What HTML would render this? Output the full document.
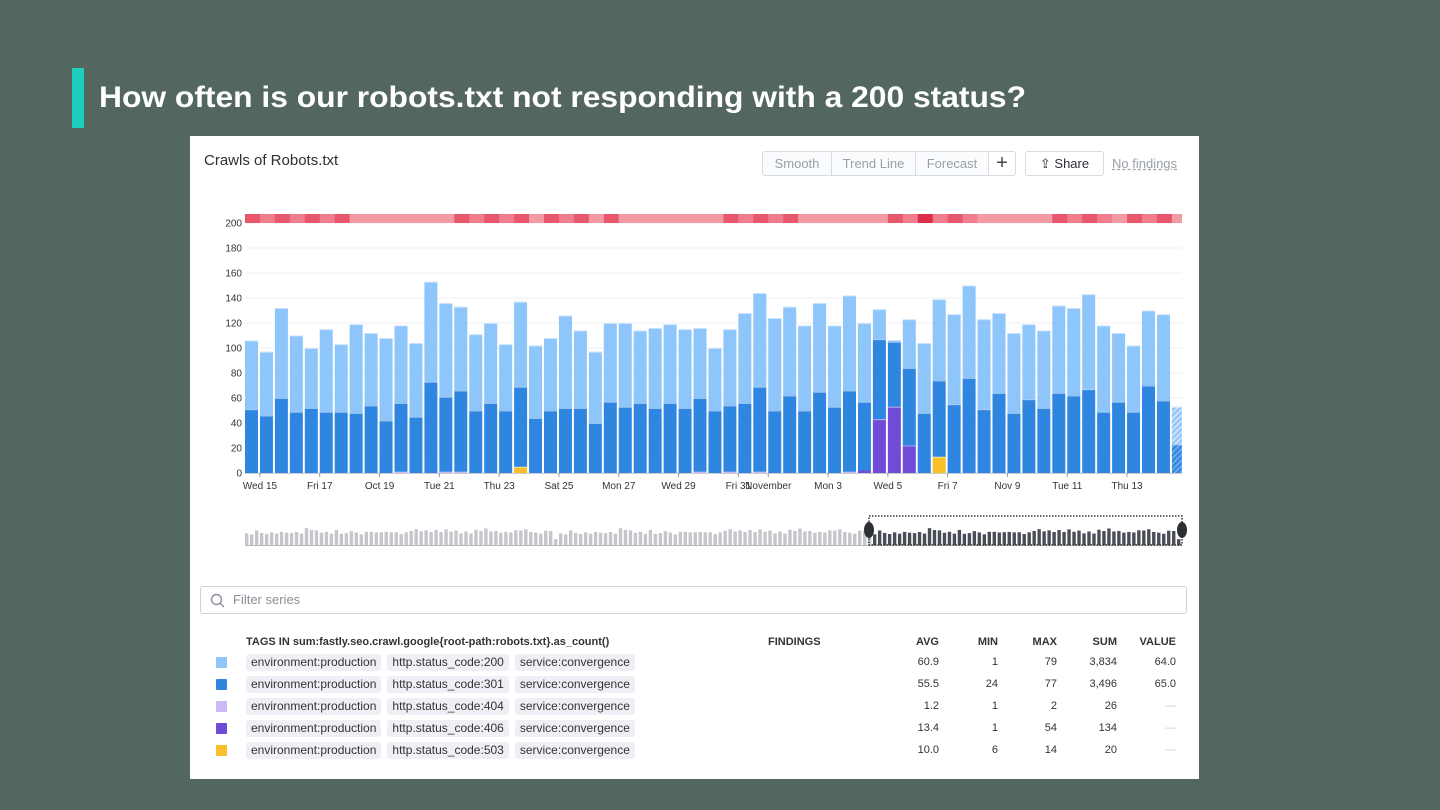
<!DOCTYPE html>
<html><head><meta charset="utf-8"><style>
body{margin:0;width:1440px;height:810px;background:#536760;font-family:"Liberation Sans",sans-serif;position:relative;overflow:hidden}
.abs{position:absolute}
.card{left:190px;top:136px;width:1009px;height:643px;background:#fff}
.btn{position:absolute;top:15px;height:25px;border:1px solid #d8dbe0;box-sizing:border-box;font-size:13px;color:#9aa0a8;line-height:23px;text-align:center;background:#fafbfc}
.chip{display:inline-block;background:#eef0f5;border-radius:3px;padding:0 5px;margin-right:6px;font-size:12px;color:#333;line-height:17px}
.row{position:absolute;left:0;height:20px;font-size:11px;color:#333}
.num{position:absolute;text-align:right;width:60px}
</style></head><body>
<div class="abs" style="left:72px;top:68px;width:12px;height:60px;background:#1ecfc0"></div>
<svg class="abs" style="left:0;top:0" width="1100" height="130"><text x="99" y="107" font-size="30" font-weight="bold" fill="#fff" textLength="927" lengthAdjust="spacingAndGlyphs" font-family="Liberation Sans, sans-serif">How often is our robots.txt not responding with a 200 status?</text></svg>
<div class="abs card">
  <div class="abs" style="left:14px;top:16px;font-size:15px;color:#2b2f36">Crawls of Robots.txt</div>
  <div class="btn" style="left:572px;width:70px;border-radius:3px 0 0 3px">Smooth</div>
  <div class="btn" style="left:641px;width:85px">Trend Line</div>
  <div class="btn" style="left:725px;width:74px">Forecast</div>
  <div class="btn" style="left:798px;width:28px;color:#444;font-size:20px;background:#fff;border-radius:0 3px 3px 0">+</div>
  <div class="btn" style="left:835px;width:79px;color:#2b2f36;background:#fff;border-radius:3px">⇪ Share</div>
  <div class="abs" style="left:922px;top:20px;font-size:13px;color:#9aa0a8;text-decoration:underline dashed">No findings</div>
  <div class="abs" style="left:10px;top:450px;width:987px;height:28px;border:1px solid #cfd3d8;border-radius:3px;box-sizing:border-box;font-size:13px;color:#8a9099;line-height:26px;padding-left:32px">Filter series
    <svg class="abs" style="left:9px;top:6px" width="16" height="16"><circle cx="6.5" cy="6.5" r="5" fill="none" stroke="#8a9099" stroke-width="1.4"/><line x1="10" y1="10" x2="14" y2="14" stroke="#8a9099" stroke-width="1.4"/></svg></div>
</div>
<svg id="chart" class="abs" style="left:0;top:0" width="1440" height="560"></svg>
<div id="legend" class="abs" style="left:190px;top:0;width:1009px;height:810px"></div>
<script>
const totals=[106,97,132,110,100,115,103,119,112,108,118,104,153,136,133,111,120,103,137,102,108,126,114,97,120,120,114,116,119,115,116,100,115,128,144,124,133,118,136,118,142,120,131,106,123,104,139,127,150,123,128,112,119,114,134,132,143,118,112,102,130,127,53];
const top301=[51,46,60,49,52,49,49,48,54,42,56,45,73,61,66,50,56,50,69,44,50,52,52,40,57,53,56,52,56,52,60,50,54,56,69,50,62,50,65,53,66,57,107,105,84,48,74,55,76,51,64,48,59,52,64,62,67,49,57,49,70,58,23];
const s404=[0,0,0,0,0,0,0,0,0,0,1,0,0,1,1,0,0,0,0,0,0,0,0,0,0,0,0,0,0,0,1,0,1,0,1,0,0,0,0,0,1,0,0,0,0,0,0,0,0,0,0,0,0,0,0,0,0,0,0,0,0,0,0];
const s406=[0,0,0,0,0,0,0,0,0,0,0,0,0,0,0,0,0,0,0,0,0,0,0,0,0,0,0,0,0,0,0,0,0,0,0,0,0,0,0,0,0,2,43,53,22,0,0,0,0,0,0,0,0,0,0,0,0,0,0,0,0,0,0];
const s503=[0,0,0,0,0,0,0,0,0,0,0,0,0,0,0,0,0,0,5,0,0,0,0,0,0,0,0,0,0,0,0,0,0,0,0,0,0,0,0,0,0,0,0,0,0,0,13,0,0,0,0,0,0,0,0,0,0,0,0,0,0,0,0];
const heat=[2,1,2,1,2,1,2,0,0,0,0,0,0,0,2,1,2,1,2,0,2,1,2,0,2,0,0,0,0,0,0,0,2,1,2,1,2,0,0,0,0,0,0,2,1,3,1,2,1,0,0,0,0,0,2,1,2,1,0,2,1,2,0];
const yTicks=[0,20,40,60,80,100,120,140,160,180,200];
const xLabels=["Wed 15","Fri 17","Oct 19","Tue 21","Thu 23","Sat 25","Mon 27","Wed 29","Fri 31","November","Mon 3","Wed 5","Fri 7","Nov 9","Tue 11","Thu 13"];
const xLabelDays=[0,2,4,6,8,10,12,14,16,17,19,21,23,25,27,29];
const navValues=totals.concat(totals.slice(0,62)).concat(totals);
const NS="http://www.w3.org/2000/svg",svg=document.getElementById('chart');
const X0=245,STEP=14.95,BW=13,Y0=473,KY=1.25;
const xs=i=>X0+i*STEP, ys=v=>Y0-v*KY, dayX=d=>X0+STEP+d*STEP*2;
function mk(t,a){const e=document.createElementNS(NS,t);for(const k in a)e.setAttribute(k,a[k]);svg.appendChild(e);return e;}
const defs=mk('defs',{});defs.innerHTML='<pattern id="h1" width="4" height="4" patternUnits="userSpaceOnUse" patternTransform="rotate(45)"><rect width="4" height="4" fill="#8ec5fb"/><rect width="2" height="4" fill="#c9e2fd"/></pattern><pattern id="h2" width="4" height="4" patternUnits="userSpaceOnUse" patternTransform="rotate(45)"><rect width="4" height="4" fill="#2f86e0"/><rect width="2" height="4" fill="#6aa9ea"/></pattern>';
yTicks.forEach(v=>{
 const g=mk('line',{x1:X0,x2:1182,y1:ys(v),y2:ys(v),stroke:'#eeeff1'});
 
 const t=mk('text',{x:242,y:ys(v)+3.5,'text-anchor':'end','font-size':10,fill:'#333'});t.textContent=v;
 
});
const heatCols=['#f49aa5','#ef7d8d','#e8586d','#dc2e48'];
heat.forEach((h,i)=>{const w=Math.min(STEP+0.5,1182-xs(i));const r=mk('rect',{x:xs(i),y:214,width:w,height:9,fill:heatCols[h]});
 });
const last=totals.length-1;
totals.forEach((tot,i)=>{
 const p=i===last;
 const segs=[[s503[i],'#f8c12a','bar-503'],[s406[i],'#6f4bd8','bar-406'],[s404[i],'#cdb8f5','bar-404'],[top301[i]-s503[i]-s406[i]-s404[i],p?'url(#h2)':'#2f86e0','bar-301'],[tot-top301[i],p?'url(#h1)':'#8ec5fb','bar-200']];
 let base=0;
 segs.forEach(s=>{if(s[0]<=0)return;
  const r=mk('rect',{x:xs(i),y:ys(base+s[0]),width:p?10:BW,height:s[0]*KY,fill:s[1]});
  
  if(s[0]>2)mk('line',{x1:xs(i),x2:xs(i)+(p?10:BW),y1:ys(base+s[0])+0.5,y2:ys(base+s[0])+0.5,stroke:'#fff','stroke-width':0.8,opacity:0.6});
  base+=s[0];});
});
mk('line',{x1:X0,x2:1182,y1:Y0+0.5,y2:Y0+0.5,stroke:'#ccc'});
xLabels.forEach((l,k)=>{const x=dayX(xLabelDays[k]);
 mk('line',{x1:x,x2:x,y1:Y0,y2:Y0+4,stroke:'#999'});
 const t=mk('text',{x:x,y:489,'text-anchor':'middle','font-size':10,fill:'#333'});t.textContent=l;
 });
const NST=(1182-X0)/navValues.length, SEL=869;
navValues.forEach((v,i)=>{const x=X0+i*NST;
 const r=mk('rect',{x:x,y:545-v*0.11,width:NST-1.6,height:v*0.11,fill:x>=SEL?'#4a4d55':'#c4c6cb'});
 });
mk('line',{x1:X0,x2:1182,y1:545.5,y2:545.5,stroke:'#b5b8bd'});
const sb=mk('rect',{x:SEL,y:516,width:313,height:29,fill:'none',stroke:'#333','stroke-dasharray':'1.5,1.5','stroke-width':1.5});

[SEL,1182].forEach(x=>{const h=mk('ellipse',{cx:x,cy:530,rx:5,ry:8,fill:'#2b2f36'});
 });
const tags=['200','301','404','406','503'], sw=['#8ec5fb','#2f86e0','#cdb8f5','#6f4bd8','#f8c12a'];
const avg=['60.9','55.5','1.2','13.4','10.0'],mn=['1','24','1','1','6'],mx=['79','77','2','54','14'],sm=['3,834','3,496','26','134','20'],val=['64.0','65.0','—','—','—'];
const L=document.getElementById('legend');
let h='<div class="row" style="top:636px;font-weight:bold;width:1009px"><span style="position:absolute;left:56px">TAGS IN sum:fastly.seo.crawl.google{root-path:robots.txt}.as_count()</span><span style="position:absolute;left:578px">FINDINGS</span>';
[['AVG',689],['MIN',748],['MAX',807],['SUM',867],['VALUE',926]].forEach(c=>h+='<span class="num" style="left:'+c[1]+'px">'+c[0]+'</span>');
h+='</div>';
tags.forEach((t,i)=>{const y=653+i*22;
 h+='<div class="row" style="top:'+y+'px;width:1009px"><span style="position:absolute;left:26px;top:4px;width:11px;height:11px;background:'+sw[i]+';border-radius:1px"></span><span style="position:absolute;left:56px;top:1px;white-space:nowrap"><span class="chip">environment:production</span><span class="chip">http.status_code:'+t+'</span><span class="chip">service:convergence</span></span>';
 [[avg[i],689],[mn[i],748],[mx[i],807],[sm[i],867],[val[i],926]].forEach(c=>h+='<span class="num" style="left:'+c[1]+'px;top:3px;'+(c[0]==='—'?'color:#ccc':'')+'">'+c[0]+'</span>');
 h+='</div>';});
L.innerHTML=h;
</script>
</body></html>
